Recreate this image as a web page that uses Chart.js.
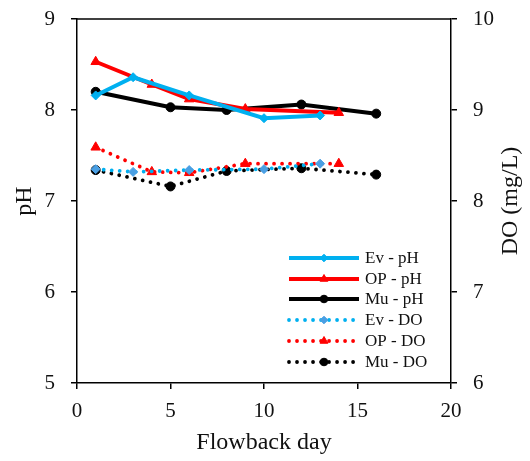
<!DOCTYPE html>
<html>
<head>
<meta charset="utf-8">
<script src="https://cdn.jsdelivr.net/npm/chart.js@4/dist/chart.umd.min.js"></script>
<style>
  html, body { margin: 0; padding: 0; background: #fff; }
  #wrap { width: 530px; height: 461px; }
</style>
</head>
<body>
<div id="wrap"><canvas id="c" width="530" height="461"></canvas></div>
<script>
// Flowback sampling days and measured values per site
const evDays = [1, 3, 6, 10, 13];
const opDays = [1, 4, 6, 9, 14];
const muDays = [1, 5, 8, 12, 16];

const evPH = [8.16, 8.36, 8.16, 7.91, 7.94];
const opPH = [8.53, 8.28, 8.12, 8.01, 7.97];
const muPH = [8.20, 8.03, 8.00, 8.06, 7.96];

const evDO = [8.35, 8.32, 8.34, 8.35, 8.41];
const opDO = [8.59, 8.32, 8.31, 8.41, 8.41];
const muDO = [8.34, 8.16, 8.33, 8.36, 8.29];

const seriesLabels = ['Ev - pH', 'OP - pH', 'Mu - pH', 'Ev - DO', 'OP - DO', 'Mu - DO'];
const xTicks = [0, 5, 10, 15, 20];
const phTicks = [5, 6, 7, 8, 9];
const doTicks = [6, 7, 8, 9, 10];
const doTitle = 'DO (mg/L)';

const pts = (xs, ys) => xs.map((x, i) => ({ x: x, y: ys[i] }));

const FONT = "'Liberation Serif', 'Times New Roman', serif";
const CYAN = '#00B0F0';
const RED = '#FF0000';
const BLACK = '#000000';
const DOT = [0.01, 8];

function series(label, data, color, style, radius, axis, dotted, markerColor) {
  return {
    label: label,
    data: data,
    yAxisID: axis,
    borderColor: color,
    backgroundColor: markerColor || color,
    pointBorderColor: markerColor || color,
    pointBackgroundColor: markerColor || color,
    borderWidth: dotted ? 3.8 : 4,
    borderDash: dotted ? DOT : [],
    borderCapStyle: dotted ? 'round' : 'butt',
    pointStyle: style,
    pointRadius: radius,
    pointBorderWidth: 1,
    tension: 0,
    fill: false
  };
}

const datasets = [
  series(seriesLabels[0], pts(evDays, evPH), CYAN, 'rectRot', 4.5, 'yPH', false),
  series(seriesLabels[1], pts(opDays, opPH), RED, 'triangle', 5.5, 'yPH', false),
  series(seriesLabels[2], pts(muDays, muPH), BLACK, 'circle', 4.5, 'yPH', false),
  series(seriesLabels[3], pts(evDays, evDO), CYAN, 'rectRot', 4.5, 'yDO', true, '#4A9FE3'),
  series(seriesLabels[4], pts(opDays, opDO), RED, 'triangle', 5.5, 'yDO', true),
  series(seriesLabels[5], pts(muDays, muDO), BLACK, 'circle', 4.5, 'yDO', true)
];

// Top frame line, right-hand axis title and the legend inside the plot
const framePlugin = {
  id: 'frame',
  afterDraw(chart) {
    const ctx = chart.ctx;
    const a = chart.chartArea;
    ctx.save();
    ctx.strokeStyle = '#000';
    ctx.lineWidth = 1.5;
    ctx.beginPath();
    ctx.moveTo(a.left, a.top);
    ctx.lineTo(a.right, a.top);
    ctx.stroke();

    // right axis title, reading bottom to top
    ctx.save();
    ctx.translate(511, (a.top + a.bottom) / 2);
    ctx.rotate(-Math.PI / 2);
    ctx.fillStyle = '#111';
    ctx.font = '24px ' + FONT;
    ctx.textAlign = 'center';
    ctx.textBaseline = 'middle';
    ctx.fillText(doTitle, 0, 0);
    ctx.restore();

    // legend
    const x0 = 289, x1 = 359, tx = 365;
    const ys = [258, 279, 299, 320, 341, 362];
    chart.data.datasets.forEach((ds, i) => {
      const y = ys[i];
      ctx.save();
      ctx.strokeStyle = ds.borderColor;
      ctx.lineWidth = ds.borderWidth;
      ctx.setLineDash(ds.borderDash);
      ctx.lineCap = ds.borderCapStyle;
      ctx.beginPath();
      ctx.moveTo(x0, y);
      ctx.lineTo(x1, y);
      ctx.stroke();
      ctx.restore();
      ctx.save();
      ctx.fillStyle = ds.pointBackgroundColor;
      ctx.strokeStyle = ds.pointBorderColor;
      ctx.lineWidth = 1;
      Chart.helpers.drawPoint(ctx, {
        pointStyle: ds.pointStyle,
        radius: ds.pointStyle === 'triangle' ? 4.5 : 3.8,
        rotation: 0,
        borderWidth: 1
      }, (x0 + x1) / 2, y);
      ctx.restore();
      ctx.fillStyle = '#111';
      ctx.font = '17px ' + FONT;
      ctx.textBaseline = 'middle';
      ctx.textAlign = 'left';
      ctx.fillText(ds.label, tx, y + 1);
    });
    ctx.restore();
  }
};

const tickFont = { family: FONT, size: 21 };
const titleFont = { family: FONT, size: 24 };

function fixY(width) {
  return (s) => { s.width = width; s.paddingTop = 0; s.paddingBottom = 0; };
}

new Chart(document.getElementById('c'), {
  type: 'line',
  data: { datasets: datasets },
  options: {
    responsive: false,
    animation: false,
    events: [],
    layout: { padding: { top: 19, left: 0, right: 0, bottom: 0 } },
    plugins: { legend: { display: false }, tooltip: { enabled: false } },
    scales: {
      x: {
        type: 'linear',
        min: 0, max: 20,
        afterBuildTicks: (s) => { s.ticks = xTicks.map(v => ({ value: v })); },
        afterFit: (s) => { s.height = 78; s.paddingLeft = 0; s.paddingRight = 0; },
        ticks: { font: tickFont, color: '#111', padding: 10, maxRotation: 0 },
        grid: { drawOnChartArea: false, drawTicks: true, tickLength: 6, color: '#000', lineWidth: 1.5 },
        border: { display: true, color: '#000', width: 1.5 },
        title: { display: true, text: 'Flowback day', font: titleFont, color: '#111', padding: { top: 2 } }
      },
      yPH: {
        type: 'linear',
        position: 'left',
        min: 5, max: 9,
        afterBuildTicks: (s) => { s.ticks = phTicks.map(v => ({ value: v })); },
        afterFit: fixY(77),
        ticks: { font: tickFont, color: '#111', padding: 16 },
        grid: { drawOnChartArea: false, drawTicks: true, tickLength: 6, color: '#000', lineWidth: 1.5 },
        border: { display: true, color: '#000', width: 1.5 },
        title: { display: true, text: 'pH', font: titleFont, color: '#111', padding: { top: 10, bottom: 0 } }
      },
      yDO: {
        type: 'linear',
        position: 'right',
        min: 6, max: 10,
        afterBuildTicks: (s) => { s.ticks = doTicks.map(v => ({ value: v })); },
        afterFit: fixY(79),
        ticks: { font: tickFont, color: '#111', padding: 16 },
        grid: { drawOnChartArea: false, drawTicks: true, tickLength: 6, color: '#000', lineWidth: 1.5 },
        border: { display: true, color: '#000', width: 1.5 },
        title: { display: false }
      }
    }
  },
  plugins: [framePlugin]
});
</script>
</body>
</html>
